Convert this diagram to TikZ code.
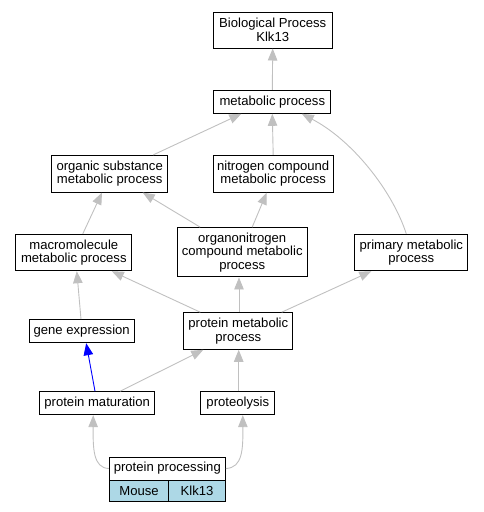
\documentclass[tikz,border=0pt]{standalone}
\usepackage{fontspec}
\setmainfont{Liberation Sans}
\usetikzlibrary{arrows.meta,calc}
\definecolor{edgegray}{HTML}{C0C0C0}
\definecolor{cellblue}{HTML}{ADD8E6}
\newcommand\boxfont{\fontsize{13.1}{13.4}\selectfont}
\begin{document}
\begin{tikzpicture}[x=1pt,y=-1pt,
  box/.style={draw=black, line width=1pt, fill=white, align=center, inner sep=0pt, font=\boxfont},
  cell/.style={box, fill=cellblue},
  edge/.style={draw=edgegray, line width=0.9pt, -{Triangle[length=12pt,width=9.5pt]}},
  blueedge/.style={edge, draw=blue}]
\useasboundingbox (0,0) rectangle (483,512);
\node[box, minimum width=118.7, minimum height=36] (B1) at (272.7,30) {Biological Process\\Klk13};
\node[box, minimum width=116.7, minimum height=23] (B2) at (272.3,101.8) {metabolic process};
\node[box, minimum width=116, minimum height=36.7] (B3) at (109.7,173.7) {organic substance\\metabolic process};
\node[box, minimum width=119.7, minimum height=36.7] (B4) at (273.2,173.7) {nitrogen compound\\metabolic process};
\node[box, minimum width=116.3, minimum height=36.4] (B5) at (73.8,252.5) {macromolecule\\metabolic process};
\node[box, minimum width=130.3, minimum height=49.3] (B6) at (242.2,252.3) {organonitrogen\\compound metabolic\\process};
\node[box, minimum width=113.3, minimum height=36.4] (B7) at (411.3,252.5) {primary metabolic\\process};
\node[box, minimum width=105.3, minimum height=23] (B8) at (81.7,331.2) {gene expression};
\node[box, minimum width=109.3, minimum height=36.6] (B9) at (238.3,331) {protein metabolic\\process};
\node[box, minimum width=115, minimum height=23] (B10) at (97.2,403.2) {protein maturation};
\node[box, minimum width=73.7, minimum height=23] (B11) at (237.8,403.2) {proteolysis};
\node[box, minimum width=116, minimum height=23] (PP) at (167.3,468.5) {protein processing};
\node[cell, minimum width=58.4, minimum height=21, anchor=north west] (MO) at (109.3,480) {Mouse};
\node[cell, minimum width=57.6, minimum height=21, anchor=north west] (KL) at (167.7,480) {Klk13};

\draw[edge] (B2.north) -- (B1.south);
\draw[edge] ($(B3.north)+(43.6,0)$) -- ($(B2.south)+(-31,0)$);
\draw[edge] (B4.north) -- (B2.south);
\draw[edge] ($(B7.north)+(-5,0)$) .. controls (392,190) and (352,140) .. ($(B2.south)+(29.5,0)$);
\draw[edge] ($(B5.north)+(9,0)$) -- ($(B3.south)+(-7.7,0)$);
\draw[edge] ($(B6.north)+(-42,0)$) -- ($(B3.south)+(33,0)$);
\draw[edge] ($(B6.north)+(10,0)$) -- ($(B4.south)+(-6.5,0)$);
\draw[edge] ($(B9.north)+(-38,0)$) -- ($(B5.south)+(38,0)$);
\draw[edge] ($(B9.north)+(0.7,0)$) -- ($(B6.south)+(-3.2,0)$);
\draw[edge] ($(B9.north)+(43.4,0)$) -- ($(B7.south)+(-40,0)$);
\draw[edge] ($(B8.north)+(-0.7,0)$) -- ($(B5.south)+(3,0)$);
\draw[blueedge] ($(B10.north)+(-2.2,0)$) -- ($(B8.south)+(4.5,0)$);
\draw[edge] ($(B10.north)+(23,0)$) -- ($(B9.south)+(-35,0)$);
\draw[edge] ($(B11.north)+(0.9,0)$) -- ($(B9.south)+(0.4,0)$);
\draw[edge] (PP.west) .. controls (93,468) and (93,448) .. ($(B10.south)+(-4,0)$);
\draw[edge] (PP.east) .. controls (243,468) and (243,448) .. ($(B11.south)+(5,0)$);
\end{tikzpicture}
\end{document}
